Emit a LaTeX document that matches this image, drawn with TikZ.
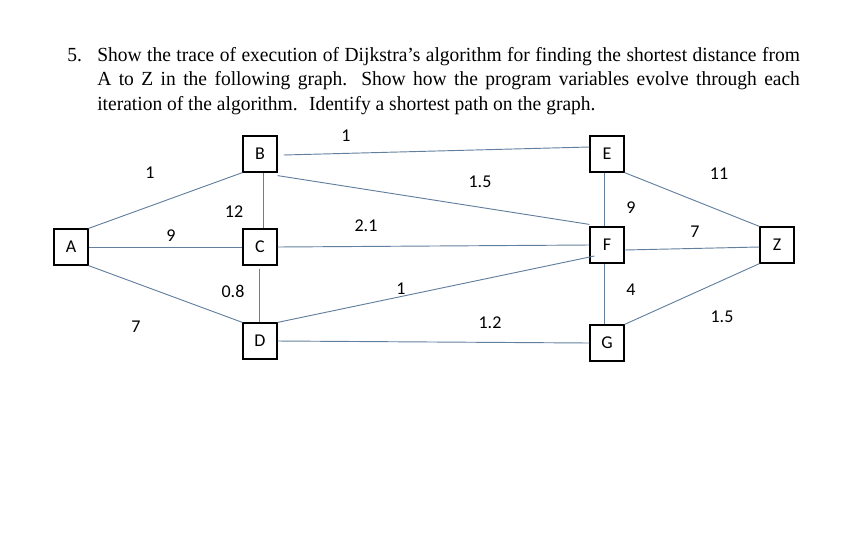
\documentclass[tikz,border=0pt]{standalone}
\usepackage{fontspec}
\setmainfont{Liberation Serif}[FakeStretch=0.975]
\newfontfamily\labelfont{Carlito}
\definecolor{edgecol}{RGB}{98,128,158}
\tikzset{
  vertex/.style={draw=black, line width=0.9pt, fill=white, minimum width=25.5pt, minimum height=27pt, inner sep=0pt, font=\labelfont\fontsize{13.5}{15}\selectfont},
  weight/.style={inner sep=0pt, font=\labelfont\fontsize{13.5}{15}\selectfont},
  segment/.style={draw=edgecol, line width=0.7pt},
  textline/.style={anchor=base west, inner sep=0pt, font=\fontsize{15}{18}\selectfont},
}
\begin{document}
\begin{tikzpicture}[x=0.75pt, y=-0.75pt]
\useasboundingbox (0,0) rectangle (862,536);

% Writing the question
\node (qnum) [textline] at (67,61) {5.};
\node (qline1) [textline] at (97,61) {\makebox[527pt][s]{Show the trace of execution of Dijkstra's algorithm for finding the shortest distance from}};
\node (qline2) [textline] at (97,85) {\makebox[527pt][s]{A to Z in the following graph. Show how the program variables evolve through each}};
\node (qline3) [textline] at (97,110) {iteration of the algorithm. \ Identify a shortest path on the graph.};

% Marking vertices
\node (A) [vertex] at (71,247) {A};
\node (B) [vertex] at (260,154) {B};
\node (C) [vertex] at (260,247) {C};
\node (D) [vertex] at (260,341) {D};
\node (E) [vertex] at (607,154) {E};
\node (F) [vertex] at (607,245) {F};
\node (G) [vertex] at (607,343) {G};
\node (Z) [vertex] at (777,245) {Z};

% Drawing segments from A
\draw [segment] (A.north east) -- (B.south west);
\draw [segment] (A.east) -- (C.west);
\draw [segment] (A.south east) -- (D.north west);

% Drawing segments from B
\draw [segment] ([shift={(6,1)}]B.east) -- ([shift={(0,-7)}]E.west);
\draw [segment] ([shift={(0,3)}]B.south east) -- ([shift={(0,-2)}]F.north west);
\draw [segment] ([xshift=2.25pt]B.south) -- ([xshift=2.25pt]C.north);

% Drawing segments from C
\draw [segment] (C.east) -- (F.west);
\draw [segment] ([shift={(-1,3)}]C.south) -- ([xshift=-0.75pt]D.north);

% Drawing segments from D
\draw [segment] (D.north east) -- ([shift={(5,11)}]F.west);
\draw [segment] (D.east) -- (G.west);

% Drawing segments from E, F, G
\draw [segment] ([xshift=-2.25pt]E.south) -- ([xshift=-2.25pt]F.north);
\draw [segment] ([xshift=-2.25pt]F.south) -- ([xshift=-2.25pt]G.north);
\draw [segment] (E.south east) -- (Z.north west);
\draw [segment] ([shift={(0,5)}]F.east) -- ([shift={(0,2)}]Z.west);
\draw [segment] (G.north east) -- (Z.south west);

% Marking weights
\node (wAB) [weight] at (150,173) {1};
\node (wAC) [weight] at (171,236) {9};
\node (wAD) [weight] at (136,327) {7};
\node (wBC) [weight] at (234,212) {12};
\node (wBE) [weight] at (346,136) {1};
\node (wBF) [weight] at (480,182) {1.5};
\node (wCF) [weight] at (366,226) {2.1};
\node (wCD) [weight] at (233,291) {0.8};
\node (wDF) [weight] at (401,289) {1};
\node (wDG) [weight] at (490,323) {1.2};
\node (wEF) [weight] at (631,208) {9};
\node (wFG) [weight] at (631,290) {4};
\node (wEZ) [weight] at (719,174) {11};
\node (wFZ) [weight] at (695,232) {7};
\node (wGZ) [weight] at (722,317) {1.5};
\end{tikzpicture}
\end{document}
